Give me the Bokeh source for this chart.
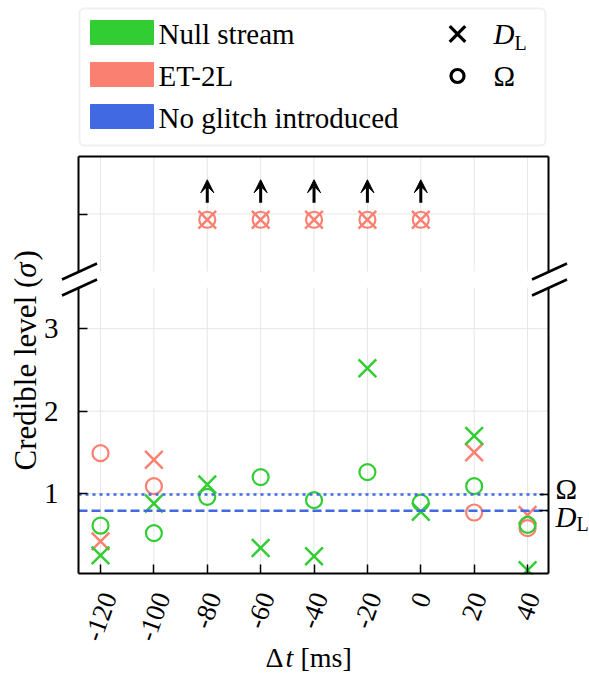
import math
from bokeh.plotting import figure
from bokeh.models import (Range1d, LinearAxis, FixedTicker, Arrow, VeeHead, BoxAnnotation,
                          ColumnDataSource, CustomJSTickFormatter)
from bokeh.embed import file_html
from bokeh.resources import INLINE
from bokeh.core.properties import value

nan = float("nan")

# ---------------- data ----------------
dt_ms = [-120, -100, -80, -60, -40, -20, 0, 20, 40]
x_tick_labels = ["-120", "-100", "-80", "-60", "-40", "-20", "0", "20", "40"]
y_ticks = [1, 2, 3]

null_stream_dl = [0.25, 0.88, 1.11, 0.34, 0.24, 2.52, 0.78, 1.70, 0.07]
null_stream_omega = [0.61, 0.52, 0.96, 1.20, 0.92, 1.26, 0.89, 1.09, 0.62]
et2l_dl = [0.42, 1.41, nan, nan, nan, nan, nan, 1.50, 0.74]
et2l_omega = [1.49, 1.09, nan, nan, nan, nan, nan, 0.77, 0.58]
et2l_offscale_dt = [-80, -60, -40, -20, 0]   # ET-2L off the scale (upper panel)
offscale_display_level = 4.9
offscale_tick = 5.0
noglitch_omega = 0.99
noglitch_dl = 0.79

legend_labels = ["Null stream", "ET-2L", "No glitch introduced"]

# ---------------- style / geometry ----------------
GREEN = "#32cd32"
SALMON = "#fa8072"
BLUE = "#4169e1"
FONT = "Liberation Serif"
GRID = "#e6e6e6"
legend_colors = [GREEN, SALMON, BLUE]

W, H = 589, 675
BOX_L, BOX_R = 78, 548          # page x of the panels' left / right spines
TOP_T, TOP_B = 156, 271         # upper panel
BOT_T, BOT_B = 287, 573         # lower panel

X_RANGE = (-128.25, 47.85)
BOT_Y = (0.03, 3.5)
TOP_Y = (4.0, 6.0)

px_per_ms = (BOX_R - BOX_L) / (X_RANGE[1] - X_RANGE[0])
bot_ppu = (BOT_B - BOT_T) / (BOT_Y[1] - BOT_Y[0])
top_ppu = (TOP_B - TOP_T) / (TOP_Y[1] - TOP_Y[0])

x_full = (X_RANGE[0] - BOX_L / px_per_ms, X_RANGE[1] + (W - BOX_R) / px_per_ms)
ybot_full = (BOT_Y[0] - (H - BOT_B) / bot_ppu, BOT_Y[1] + BOT_T / bot_ppu)
ytop_full = (TOP_Y[0] - (H - TOP_B) / top_ppu, TOP_Y[1] + TOP_T / top_ppu)

p = figure(width=W, height=H, x_range=Range1d(*x_full), y_range=Range1d(*ybot_full),
           title=None, min_border=0, x_axis_type=None, y_axis_type=None,
           outline_line_color=None, toolbar_location=None, output_backend="svg",
           background_fill_color="white", border_fill_color="white")
p.extra_x_ranges = {"px": Range1d(0, W)}
p.extra_y_ranges = {"px": Range1d(H, 0), "top": Range1d(*ytop_full)}
PX = dict(x_range_name="px", y_range_name="px")
n = len(dt_ms)

# ---------------- grid lines ----------------
p.segment(x0=dt_ms, y0=[BOT_Y[0]] * n, x1=dt_ms, y1=[BOT_Y[1]] * n,
          line_color=GRID, line_width=1, level="underlay")
p.segment(x0=[X_RANGE[0]] * len(y_ticks), y0=y_ticks, x1=[X_RANGE[1]] * len(y_ticks), y1=y_ticks,
          line_color=GRID, line_width=1, level="underlay")
p.segment(x0=dt_ms, y0=[TOP_Y[0]] * n, x1=dt_ms, y1=[TOP_Y[1]] * n, y_range_name="top",
          line_color=GRID, line_width=1, level="underlay")
p.segment(x0=[X_RANGE[0]], y0=[offscale_tick], x1=[X_RANGE[1]], y1=[offscale_tick],
          y_range_name="top", line_color=GRID, line_width=1, level="underlay")


# ---------------- axes (spines) ----------------
def axis(ticks, loc, bounds, labels=False, **kw):
    ax = LinearAxis(ticker=FixedTicker(ticks=ticks), fixed_location=loc, bounds=bounds,
                    axis_line_width=2, axis_line_color="black",
                    major_tick_in=9, major_tick_out=0, major_tick_line_width=1.5,
                    minor_tick_in=0, minor_tick_out=0, **kw)
    if not labels:
        ax.formatter = CustomJSTickFormatter(code="return ''")
    return ax


p.add_layout(axis(y_ticks, X_RANGE[0], BOT_Y, labels=True, major_label_text_font=FONT,
                  major_label_text_font_size="29px", major_label_standoff=20,
                  major_label_text_color="black"), "left")
p.add_layout(axis(dt_ms, BOT_Y[0], X_RANGE), "below")
p.add_layout(axis([noglitch_omega, noglitch_dl], X_RANGE[1], BOT_Y), "right")
p.add_layout(axis([offscale_tick], X_RANGE[0], TOP_Y, y_range_name="top"), "left")
p.add_layout(axis([], X_RANGE[1], TOP_Y, y_range_name="top"), "right")
p.add_layout(axis([], TOP_Y[1], X_RANGE, y_range_name="top"), "above")

# ---------------- lower panel data ----------------
src = ColumnDataSource(dict(dt=dt_ms, ns_dl=null_stream_dl, ns_om=null_stream_omega,
                            et_dl=et2l_dl, et_om=et2l_omega))
XS, CS = 25, 16
p.scatter("dt", "et_dl", source=src, marker="x", size=XS, line_color=SALMON, line_width=2.5)
p.scatter("dt", "et_om", source=src, marker="circle", size=CS, fill_color=None,
          line_color=SALMON, line_width=2.2)
p.scatter("dt", "ns_dl", source=src, marker="x", size=XS, line_color=GREEN, line_width=2.5)
p.scatter("dt", "ns_om", source=src, marker="circle", size=CS, fill_color=None,
          line_color=GREEN, line_width=2.2)

# no-glitch reference lines
p.segment(x0=[X_RANGE[0]], y0=[noglitch_omega], x1=[X_RANGE[1]], y1=[noglitch_omega],
          line_color=BLUE, line_width=2.5, line_dash="3 4")
p.segment(x0=[X_RANGE[0]], y0=[noglitch_dl], x1=[X_RANGE[1]], y1=[noglitch_dl],
          line_color=BLUE, line_width=2.5, line_dash="9 4")

# clip markers at the lower spine (white mask just below the panel)
p.quad(left=[BOX_L - 2], right=[BOX_R + 2], top=[BOT_B + 1], bottom=[BOT_B + 14],
       fill_color="white", line_color=None, **PX)

# ---------------- upper panel (off-scale) ----------------
off_src = ColumnDataSource(dict(
    x=et2l_offscale_dt,
    y=[offscale_display_level for _ in et2l_offscale_dt],
    y0=[offscale_display_level + 17 / top_ppu for _ in et2l_offscale_dt],
    y1=[offscale_display_level + 40 / top_ppu for _ in et2l_offscale_dt],
))
p.scatter("x", "y", source=off_src, y_range_name="top", marker="x", size=XS,
          line_color=SALMON, line_width=2.5)
p.scatter("x", "y", source=off_src, y_range_name="top", marker="circle", size=CS,
          fill_color=None, line_color=SALMON, line_width=2.2)
p.add_layout(Arrow(source=off_src, x_start="x", y_start="y0", x_end="x", y_end="y1",
                   y_range_name="top", line_color="black", line_width=3,
                   end=VeeHead(size=13, fill_color="black", line_color="black", line_width=1)))

# ---------------- broken-axis marks ----------------
bx0, by0, bx1, by1 = [], [], [], []
for cx, cy in [(BOX_L, TOP_B), (BOX_R, TOP_B), (BOX_L, BOT_T), (BOX_R, BOT_T)]:
    bx0.append(cx - 16.5); by0.append(cy + 8)
    bx1.append(cx + 18.5); by1.append(cy - 8)
p.segment(x0=bx0, y0=by0, x1=bx1, y1=by1, line_color="black", line_width=2.5, **PX)

# ---------------- tick labels, axis labels ----------------
ang = math.radians(70)
XFS = 27
lens = [XFS * (0.5 * sum(c.isdigit() for c in s) + 0.333 * s.count("-")) for s in x_tick_labels]
p.text(x=dt_ms, y=[BOT_B + 20] * n, y_range_name="px", text=x_tick_labels, angle=ang,
       x_offset=[L * math.cos(ang) / 2 for L in lens], text_align="right",
       text_baseline="middle", text_font=value(FONT), text_font_size=f"{XFS}px",
       text_color="black")

# "Δt [ms]"
for txt, xp, style in [("Δ", 265, "normal"), ("t", 285, "italic"), ("[ms]", 300, "normal")]:
    p.text(x=[xp], y=[657], text=[txt], text_align="left", text_baseline="middle",
           text_font=value(FONT), text_font_size="28px", text_font_style=style,
           text_color="black", **PX)

# "Credible level (σ)"  (rotated)
YFS = 31
y0 = 470
w1 = 6.221 * YFS
w2 = 0.55 * YFS
for txt, yp, style in [("Credible level (", y0, "normal"), ("σ", y0 - w1, "italic"),
                       (")", y0 - w1 - w2, "normal")]:
    p.text(x=[25], y=[yp], text=[txt], angle=math.pi / 2, text_align="left",
           text_baseline="middle", text_font=value(FONT), text_font_size=f"{YFS}px",
           text_font_style=style, text_color="black", **PX)

# right-hand labels of the reference lines
x_r = X_RANGE[1] + 7 / px_per_ms
p.text(x=[x_r], y=[noglitch_omega + 5 / bot_ppu], text=["Ω"], text_align="left",
       text_baseline="middle", text_font=value(FONT), text_font_size="29px", text_color="black")
p.text(x=[x_r], y=[noglitch_dl - 6 / bot_ppu], text=["D"], text_align="left",
       text_baseline="middle", text_font=value(FONT), text_font_size="29px",
       text_font_style="italic", text_color="black")
p.text(x=[x_r + 21 / px_per_ms], y=[noglitch_dl - 13 / bot_ppu], text=["L"], text_align="left",
       text_baseline="middle", text_font=value(FONT), text_font_size="20px", text_color="black")

# ---------------- legend ----------------
p.add_layout(BoxAnnotation(left=79, right=545, top=8, bottom=145, fill_color="white",
                           fill_alpha=1, line_color="#cccccc", line_width=2,
                           border_radius=5, level="underlay", **PX))
row_tops = [20, 62, 104]
p.quad(left=[90] * 3, right=[153] * 3, top=row_tops, bottom=[t + 24 for t in row_tops],
       color=legend_colors, **PX)
p.text(x=[158] * 3, y=[t + 13 for t in row_tops], text=legend_labels,
       text_font=value(FONT), text_font_size="29px", text_baseline="middle",
       text_color="black", **PX)
p.scatter(x=[457], y=[33.5], marker="x", size=22, line_color="black", line_width=3.2, **PX)
p.scatter(x=[457], y=[75.5], marker="circle", size=13, fill_color=None,
          line_color="black", line_width=3.2, **PX)
p.text(x=[493], y=[33], text=["D"], text_font=value(FONT), text_font_size="29px",
       text_font_style="italic", text_baseline="middle", text_color="black", **PX)
p.text(x=[514], y=[42], text=["L"], text_font=value(FONT), text_font_size="20px",
       text_baseline="middle", text_color="black", **PX)
p.text(x=[493], y=[75], text=["Ω"], text_font=value(FONT), text_font_size="29px",
       text_baseline="middle", text_color="black", **PX)

open("out.html", "w").write(file_html(p, INLINE))
